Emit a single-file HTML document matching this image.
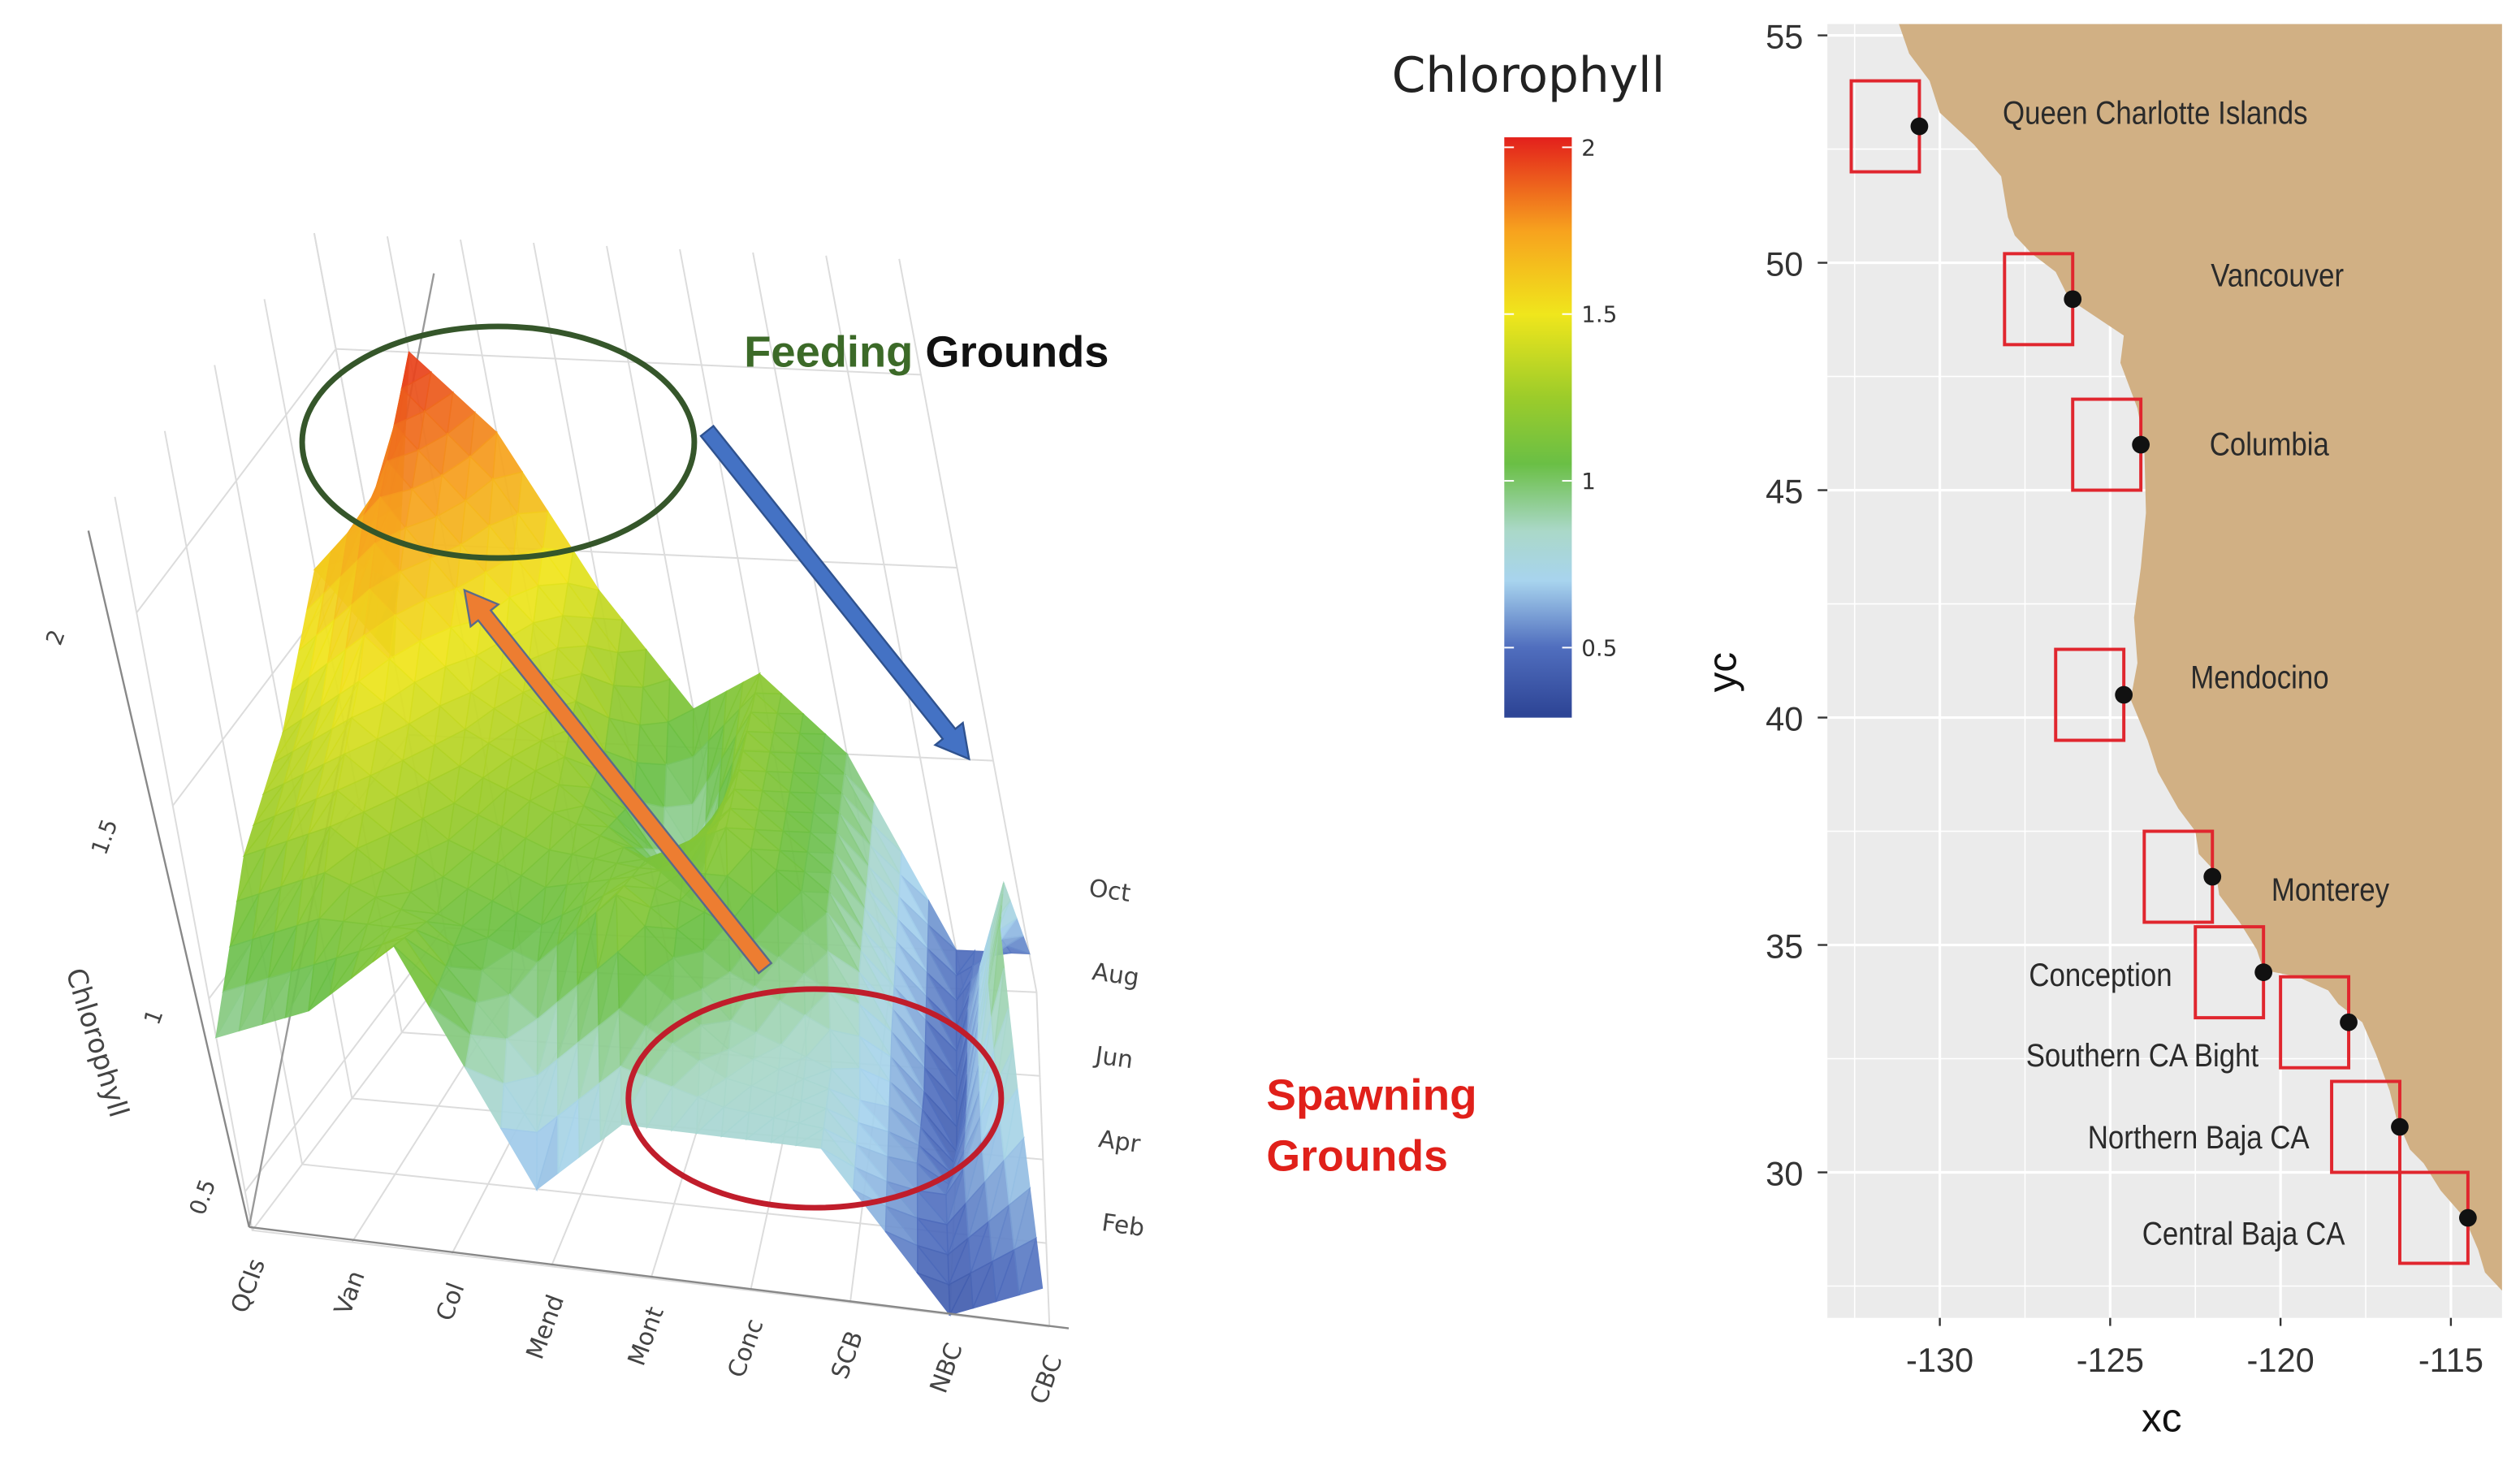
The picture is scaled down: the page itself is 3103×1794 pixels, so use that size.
<!DOCTYPE html>
<html><head><meta charset="utf-8">
<style>
html,body{margin:0;padding:0;background:#fff;}
svg{display:block;}
</style></head>
<body>
<svg id="fig" width="3103" height="1794" viewBox="0 0 1568 906" preserveAspectRatio="none" xmlns="http://www.w3.org/2000/svg">
<defs>
<linearGradient id="cbar" x1="0" y1="1" x2="0" y2="0"></linearGradient>
</defs>
<g id="surf3d"></g>
<g id="annot"></g>
<g id="cbarg"></g>
<g id="mapg"></g>
</svg>
<script>
// ---------- 3D chart data ----------
const locations = ["QCIs","Van","Col","Mend","Mont","Conc","SCB","NBC","CBC"];
const months = ["Feb","Apr","Jun","Aug","Oct"];
const chlFeb = [0.9,1.0,1.2,0.6,0.8,0.8,0.8,0.4,0.5];
const chlApr = [1.2,1.3,1.1,1.0,1.2,0.9,0.8,0.5,0.8];
const chlJun = [1.35,1.5,1.3,1.2,1.1,1.2,1.0,0.4,1.0];
const chlAug = [1.6,1.8,1.5,1.3,0.8,1.2,1.0,0.45,0.9];
const chlOct = [1.2,2.0,1.8,1.4,1.1,1.2,1.0,0.5,0.5];
const zTicks = [0.5,1,1.5,2];
const zTickLabels = ["0.5","1","1.5","2"];
// ---------- colorbar ----------
const cbarTicks = [0.5,1,1.5,2];
const cbarTickLabels = ["0.5","1","1.5","2"];
// ---------- map data ----------
const siteNames = ["Queen Charlotte  Islands","Vancouver","Columbia","Mendocino","Monterey","Conception","Southern CA Bight","Northern Baja CA","Central  Baja CA"];
const siteLon = [-130.6,-126.1,-124.1,-124.6,-122.0,-120.5,-118.0,-116.5,-114.5];
const siteLat = [53.0,49.2,46.0,40.5,36.5,34.4,33.3,31.0,29.0];
const xTicks = [-130,-125,-120,-115];
const xTickLabels = ["-130","-125","-120","-115"];
const yTicks = [30,35,40,45,50,55];
const yTickLabels = ["30","35","40","45","50","55"];

const NS="http://www.w3.org/2000/svg";
function mk(tag,attrs,parent){const e=document.createElementNS(NS,tag);for(const k in attrs)e.setAttribute(k,attrs[k]);parent.appendChild(e);return e;}

const cStops=[[0.3,[46,69,150]],[0.5,[80,110,190]],[0.7,[168,212,238]],[0.85,[170,216,200]],[1.05,[106,191,69]],[1.25,[156,204,42]],[1.5,[240,230,28]],[1.75,[247,162,30]],[2.05,[227,32,28]]];
function cmap(v){
  if(v<=cStops[0][0])return "rgb("+cStops[0][1]+")";
  for(let k=1;k<cStops.length;k++){if(v<=cStops[k][0]){const a=cStops[k-1],b=cStops[k];const t=(v-a[0])/(b[0]-a[0]);
    return "rgb("+a[1].map((c,m)=>Math.round(c+(b[1][m]-c)*t)).join(",")+")";}}
  return "rgb("+cStops[cStops.length-1][1]+")";
}

// ---------- 3D surface ----------
const S=document.getElementById('surf3d');
const grid=[chlFeb,chlApr,chlJun,chlAug,chlOct];
const nI=locations.length-1, nJ=months.length-1;
function proj(i,j,v){
  const t=i/nI;
  const mx=31+(-2-31)*t, my=-41+(-52+41)*t;
  return [157+62*i+j*mx-(v-0.4)*45, 765+7.5*i+j*my-(v-0.4)*240];
}
const gl=mk('g',{stroke:'#dcdcdc','stroke-width':1,fill:'none'},S);


for(let i=0;i<=nI;i++){const a=proj(i,0,0.4),b=proj(i,nJ,0.4),c=proj(i,nJ,2.3);mk('polyline',{points:a+" "+b+" "+c},gl);}
for(let j=0;j<=nJ;j++){const a=proj(0,j,0.4),b=proj(nI,j,0.4),c=proj(0,j,2.3);mk('polyline',{points:c+" "+a+" "+b},gl);}
zTicks.forEach(z=>{const a=proj(0,0,z),b=proj(0,nJ,z),c=proj(nI,nJ,z);mk('polyline',{points:a+" "+b+" "+c},gl);});
const ax0=mk('line',{x1:155,y1:763,x2:270,y2:170,stroke:'#999','stroke-width':1.2},S);


const sg=mk('g',{},S);


const sub=4;
function val(u,w){const i0=Math.min(Math.floor(u),nI-1),j0=Math.min(Math.floor(w),nJ-1);const fu=u-i0,fw=w-j0;
  return grid[j0][i0]*(1-fu)*(1-fw)+grid[j0][i0+1]*fu*(1-fw)+grid[j0+1][i0]*(1-fu)*fw+grid[j0+1][i0+1]*fu*fw;}
for(let j=nJ*sub-1;j>=0;j--){for(let i=0;i<nI*sub;i++){
  const u0=i/sub,u1=(i+1)/sub,w0=j/sub,w1=(j+1)/sub;
  const v00=val(u0,w0),v10=val(u1,w0),v01=val(u0,w1),v11=val(u1,w1);
  const p00=proj(u0,w0,v00),p10=proj(u1,w0,v10),p01=proj(u0,w1,v01),p11=proj(u1,w1,v11);
  const c1=cmap((v00+v10+v11)/3),c2=cmap((v00+v01+v11)/3);
  mk('polygon',{points:p00+" "+p01+" "+p11,fill:c2,stroke:c2,'stroke-width':0.8,opacity:0.93},sg);
  mk('polygon',{points:p00+" "+p10+" "+p11,fill:c1,stroke:c1,'stroke-width':0.8,opacity:0.93},sg);
}}
const ax=mk('g',{stroke:'#888','stroke-width':1.2,fill:'none'},S);


mk('line',{x1:155,y1:763,x2:665,y2:826},ax);
mk('line',{x1:155,y1:763,x2:55,y2:330},ax);
locations.forEach((n,i)=>{const p=proj(i,0,0.4);
  const t=mk('text',{x:0,y:0,transform:`translate(${p[0]+8},${p[1]+20}) rotate(-70)`,'text-anchor':'end','font-family':'DejaVu Sans, sans-serif','font-size':15,fill:'#444'},S);
  t.textContent=n;
  
  });
months.forEach((m,j)=>{const p=proj(nI,j,0.4);
  const t=mk('text',{x:0,y:0,transform:`translate(${p[0]+32},${p[1]-60}) rotate(8)`,'font-family':'DejaVu Sans, sans-serif','font-size':15,fill:'#444'},S);
  t.textContent=m;
  
  });
zTicks.forEach((z,k)=>{const p=proj(0,0,z);
  const t=mk('text',{x:0,y:0,transform:`translate(${p[0]-22-k*8},${p[1]+5+k*8-(k>2?12:0)}) rotate(-70)`,'text-anchor':'middle','font-family':'DejaVu Sans, sans-serif','font-size':14,fill:'#444'},S);
  t.textContent=zTickLabels[k];
  
  });
{const t=mk('text',{x:0,y:0,transform:'translate(55,650) rotate(73)','text-anchor':'middle','font-family':'DejaVu Sans, sans-serif','font-size':17,fill:'#444'},S);
 t.textContent='Chlorophyll';
 
 }

// ---------- annotations ----------
const A=document.getElementById('annot');
function ell(cx,cy,rx,ry,col,name){const e=mk('ellipse',{cx,cy,rx,ry,fill:'none',stroke:col,'stroke-width':3.5},A);}
ell(310,275,122,72,'#35562a','feeding-grounds-ellipse');
ell(507,683,116,68,'#c01d2b','spawning-grounds-ellipse');
function arrow(x1,y1,x2,y2,fill,stroke,name){
  const dx=x2-x1,dy=y2-y1,L=Math.hypot(dx,dy),ux=dx/L,uy=dy/L,nx=-uy,ny=ux;
  const w=5,hw=11,hl=20;const bx=x2-ux*hl,by=y2-uy*hl;
  const pts=[[x1+nx*w,y1+ny*w],[bx+nx*w,by+ny*w],[bx+nx*hw,by+ny*hw],[x2,y2],[bx-nx*hw,by-ny*hw],[bx-nx*w,by-ny*w],[x1-nx*w,y1-ny*w]];
  const p=mk('polygon',{points:pts.map(q=>q.join(',')).join(' '),fill,stroke,'stroke-width':1.2},A);
  }
arrow(440,268,603,472,'#4472c4','#2f528f','blue-arrow');
arrow(476,602,289,367,'#ed7d31','#5a6a8a','orange-arrow');
{const t=mk('text',{x:463,y:228,'font-family':'Liberation Sans, sans-serif','font-weight':'bold','font-size':27,textLength:227,lengthAdjust:'spacingAndGlyphs'},A);
 t.innerHTML='<tspan fill="#3c6a28">Feeding</tspan> <tspan fill="#111">Grounds</tspan>';
 }
{const t=mk('text',{x:788,y:690,'font-family':'Liberation Sans, sans-serif','font-weight':'bold','font-size':27,fill:'#e0201a',textLength:131,lengthAdjust:'spacingAndGlyphs'},A);
 t.textContent='Spawning';
 const t2=mk('text',{x:788,y:728,'font-family':'Liberation Sans, sans-serif','font-weight':'bold','font-size':27,fill:'#e0201a',textLength:113,lengthAdjust:'spacingAndGlyphs'},A);
 t2.textContent='Grounds';}

// ---------- colorbar ----------
const C=document.getElementById('cbarg');
const grad=document.getElementById('cbar');
const vMin=0.29,vMax=2.03;
cStops.forEach(s=>{mk('stop',{offset:((s[0]-vMin)/(vMax-vMin)).toFixed(3),'stop-color':'rgb('+s[1]+')'},grad);});
function cbY(v){return 299-(v-1)*207.4;}
{const r=mk('rect',{x:936,y:cbY(vMax),width:42,height:cbY(vMin)-cbY(vMax),fill:'url(#cbar)'},C);}
cbarTicks.forEach((v,k)=>{const y=cbY(v);
  mk('line',{x1:936,x2:942,y1:y,y2:y,stroke:'#fff','stroke-width':1},C);
  mk('line',{x1:972,x2:978,y1:y,y2:y,stroke:'#fff','stroke-width':1},C);
  const t=mk('text',{x:984,y:y+5,'font-family':'DejaVu Sans, sans-serif','font-size':14,fill:'#333'},C);
  t.textContent=cbarTickLabels[k];});
{const t=mk('text',{x:866,y:57,'font-family':'DejaVu Sans, sans-serif','font-size':30,fill:'#222',textLength:170,lengthAdjust:'spacingAndGlyphs'},C);
 t.textContent='Chlorophyll';}

// ---------- map ----------
const Mg=document.getElementById('mapg');
function lx(lon){return 1207+(lon+130)*21.2;}
function ly(lat){return 22+(55-lat)*28.28;}
const L0=-133.3,L1=-113.5,B0=26.8,B1=55.25;
{const r=mk('rect',{x:lx(L0),y:ly(B1),width:lx(L1)-lx(L0),height:ly(B0)-ly(B1),fill:'#ebebeb'},Mg);}
for(let lo=-132.5;lo<=-115;lo+=2.5){const maj=(lo%5===0);mk('line',{x1:lx(lo),x2:lx(lo),y1:ly(B1),y2:ly(B0),stroke:'#fff','stroke-width':maj?1.6:0.8},Mg);}
for(let la=27.5;la<=55;la+=2.5){const maj=(la%5===0);mk('line',{x1:lx(L0),x2:lx(L1),y1:ly(la),y2:ly(la),stroke:'#fff','stroke-width':maj?1.6:0.8},Mg);}
const coast=[[-131.2,55.25],[-130.9,54.6],[-130.3,54.0],[-130.0,53.3],[-129.0,52.6],[-128.2,51.9],[-128.0,51.0],[-127.8,50.6],[-127.3,50.2],[-126.6,49.8],[-126.2,49.2],[-125.2,48.7],[-124.6,48.4],[-124.7,47.8],[-124.2,46.8],[-124.0,46.0],[-123.95,44.5],[-124.1,43.3],[-124.3,42.2],[-124.2,41.2],[-124.4,40.4],[-123.9,39.5],[-123.6,38.8],[-123.0,38.0],[-122.5,37.5],[-122.4,37.0],[-121.9,36.6],[-121.8,36.1],[-121.2,35.5],[-120.7,34.9],[-120.5,34.45],[-119.5,34.3],[-118.6,34.0],[-118.3,33.7],[-117.6,33.3],[-117.2,32.6],[-116.8,31.8],[-116.6,31.2],[-116.2,30.5],[-115.8,30.2],[-115.3,29.6],[-114.6,29.0],[-114.2,28.3],[-114.0,27.8],[-113.5,27.4],[-113.5,55.25]];
{const p=mk('polygon',{points:coast.map(c=>lx(c[0])+','+ly(c[1])).join(' '),fill:'#d1b084'},Mg);}
const lblPos=[[1341,70],[1417,171],[1412,276],[1406,421],[1450,553],[1307,606],[1333,656],[1368,707],[1396,767]];
siteNames.forEach((n,k)=>{
  const r=mk('rect',{x:lx(siteLon[k]-2),y:ly(siteLat[k]+1),width:lx(siteLon[k])-lx(siteLon[k]-2),height:ly(siteLat[k]-1)-ly(siteLat[k]+1),fill:'none',stroke:'#e0262e','stroke-width':2},Mg);
  
  const d=mk('circle',{cx:lx(siteLon[k]),cy:ly(siteLat[k]),r:5.5,fill:'#111'},Mg);
  
  const t=mk('text',{x:lblPos[k][0],y:lblPos[k][1]+7,'text-anchor':'middle','font-family':'Liberation Sans Narrow, Liberation Sans, sans-serif','font-size':20,fill:'#2a2a2a',transform:`translate(${lblPos[k][0]*0.12},0) scale(0.88,1)`},Mg);
  t.textContent=n;
});
xTicks.forEach((v,k)=>{mk('line',{x1:lx(v),x2:lx(v),y1:ly(B0),y2:ly(B0)+5,stroke:'#333','stroke-width':1.2},Mg);
  const t=mk('text',{x:lx(v),y:853,'text-anchor':'middle','font-family':'Liberation Sans, sans-serif','font-size':21,fill:'#333'},Mg);
  t.textContent=xTickLabels[k];});
yTicks.forEach((v,k)=>{mk('line',{x1:lx(L0)-6,x2:lx(L0),y1:ly(v),y2:ly(v),stroke:'#333','stroke-width':1.2},Mg);
  const t=mk('text',{x:1122,y:ly(v)+8,'text-anchor':'end','font-family':'Liberation Sans, sans-serif','font-size':21,fill:'#333'},Mg);
  t.textContent=yTickLabels[k];});
{const t=mk('text',{x:1345,y:890,'text-anchor':'middle','font-family':'Liberation Sans, sans-serif','font-size':25,fill:'#111'},Mg);t.textContent='xc';
 const t2=mk('text',{x:0,y:0,transform:'translate(1080,418) rotate(-90)','text-anchor':'middle','font-family':'Liberation Sans, sans-serif','font-size':25,fill:'#111'},Mg);t2.textContent='yc';}
</script>
</body></html>
